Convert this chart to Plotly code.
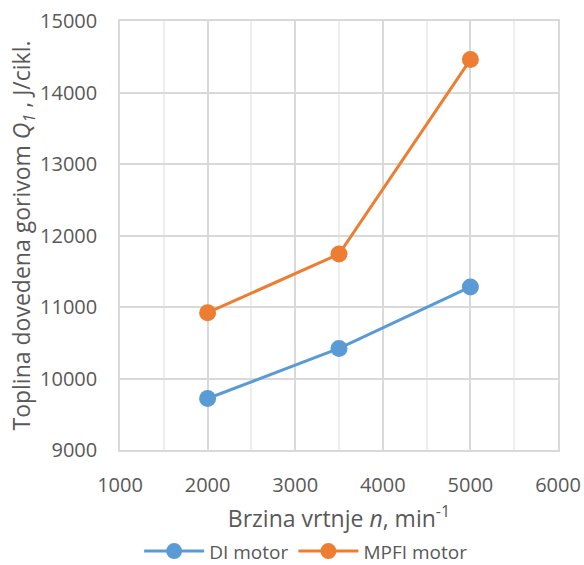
import plotly.graph_objects as go

rpm = [2000, 3500, 5000]
di_motor = [9720, 10420, 11280]
mpfi_motor = [10920, 11740, 14460]
series_names = ["DI motor", "MPFI motor"]
x_ticks = [1000, 2000, 3000, 4000, 5000, 6000]
y_ticks = [9000, 10000, 11000, 12000, 13000, 14000, 15000]

BLUE = "#5B9BD5"
ORANGE = "#ED7D31"
TXT = "#595959"
FONT = "Open Sans"

fig = go.Figure()
for name, vals, col in [(series_names[0], di_motor, BLUE), (series_names[1], mpfi_motor, ORANGE)]:
    fig.add_trace(go.Scatter(
        x=rpm, y=vals, name=name, mode="lines+markers",
        line=dict(color=col, width=3),
        marker=dict(color=col, size=17),
    ))

fig.update_layout(
    width=584, height=565,
    margin=dict(l=120, r=26, t=21, b=115, autoexpand=False),
    paper_bgcolor="white", plot_bgcolor="white",
    font=dict(family=FONT, size=19, color=TXT),
    showlegend=True,
    legend=dict(orientation="h", x=0.425, xanchor="center", y=-0.236, yanchor="middle",
                font=dict(family=FONT, size=19, color=TXT), itemwidth=60, tracegroupgap=0),
)
fig.update_xaxes(
    range=[1000, 6000], tickvals=x_ticks, ticktext=[str(v) for v in x_ticks],
    tickfont=dict(family=FONT, size=20, color=TXT),
    showgrid=True, gridcolor="#D9D9D9", gridwidth=1.5,
    minor=dict(dtick=500, tick0=1000, showgrid=True, gridcolor="#EEEEEE", gridwidth=1.5),
    showline=True, linecolor="#D9D9D9", linewidth=1.5, mirror=True,
    zeroline=False, ticks="", ticklabelstandoff=16, automargin=False,
    title=dict(text="Brzina vrtnje <i>n</i>, min<sup>-1</sup>", font=dict(family=FONT, size=23, color=TXT), standoff=14),
)
fig.update_yaxes(
    range=[9000, 15000], tickvals=y_ticks, ticktext=[str(v) for v in y_ticks],
    tickfont=dict(family=FONT, size=20, color=TXT),
    showgrid=True, gridcolor="#D9D9D9", gridwidth=1.5,
    showline=True, linecolor="#D9D9D9", linewidth=1.5, mirror=True,
    zeroline=False, ticks="", ticklabelstandoff=17, automargin=False,
    title=dict(text="Toplina dovedena gorivom <i>Q<sub>1</sub></i> , J/cikl.", font=dict(family=FONT, size=23, color=TXT), standoff=3),
)

fig.write_html("out.html", config={"displayModeBar": False},
               post_script="document.body.style.margin='0';document.body.style.overflow='hidden';")
